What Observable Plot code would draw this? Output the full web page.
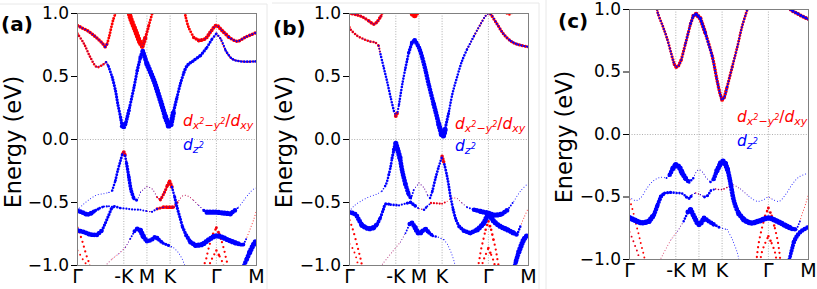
<!DOCTYPE html>
<html><head><meta charset="utf-8">
<script src="https://cdn.jsdelivr.net/npm/d3@7"></script>
<script src="https://cdn.jsdelivr.net/npm/@observablehq/plot@0.6"></script>
<style>
html,body{margin:0;padding:0;background:#fff;}
#root{position:relative;width:817px;height:289px;overflow:hidden;background:#fff;}
</style></head><body><div id="root"></div>
<script>
// k-path ticks (units of |Γ-K|) and labels
const kTicks = [0, 1, 1.5, 2, 3, 3.866];
const kLabels = ["Γ", "-K", "M", "K", "Γ", "M"];
const eTicks = [-1, -0.5, 0, 0.5, 1];
// each point: [k, energy (eV), d_{x2-y2}/d_{xy} weight, d_{z2} weight]

// ---------- panel (a) ----------
const a_c1 = [[0,0.905,.55,.25],[0.1,0.885,.55,.25],[0.21,0.865,.55,.25],[0.32,0.835,.55,.25],[0.42,0.805,.55,.25],[0.52,0.77,.55,.25],[0.60,0.735,.5,.3],[0.64,0.76,.45,0],[0.68,0.81,.45,0],[0.73,0.89,.45,0],[0.78,0.96,.45,0],[0.82,1.0,.45,0],[0.84,1.03,.45,0]];
const a_c2 = [[0,0.84,.4,.1],[0.14,0.76,.4,.1],[0.28,0.65,.4,.1],[0.42,0.574,.4,.15],[0.53,0.59,.4,.15],[0.62,0.614,.3,.35],[0.67,0.58,0,.45],[0.75,0.495,0,.5],[0.82,0.389,0,.5],[0.87,0.283,0,.5],[0.93,0.177,0,.55],[0.965,0.105,.1,.7],[1.0,0.10,.1,.75],[1.05,0.14,0,.6],[1.11,0.23,0,.5],[1.22,0.415,0,.5],[1.29,0.548,0,.55],[1.36,0.653,0,.65],[1.41,0.70,0,.75],[1.50,0.60,0,.8],[1.65,0.468,0,.8],[1.79,0.31,0,.8],[1.90,0.177,0,.85],[1.97,0.11,0,.9],[2.02,0.12,0,.8],[2.08,0.23,0,.55],[2.15,0.336,0,.5],[2.22,0.44,0,.5],[2.30,0.534,0,.55],[2.37,0.587,0,.55],[2.51,0.627,0,.55],[2.66,0.667,.15,.5],[2.80,0.733,.2,.45],[2.91,0.80,.3,.4],[3.0,0.84,.35,.35],[3.09,0.80,.3,.35],[3.20,0.706,.3,.4],[3.34,0.64,.3,.4],[3.52,0.62,.3,.4],[3.866,0.62,.3,.4]];
const a_c3 = [[1.11,1.04,.8,0],[1.13,0.984,.8,0],[1.25,0.865,.8,0],[1.36,0.759,.75,.05],[1.40,0.738,.7,.1],[1.47,0.812,.5,.05],[1.54,0.905,.45,0],[1.61,0.997,.45,0],[1.63,1.03,.45,0]];
const a_c4 = [[2.31,1.03,.45,0],[2.33,0.984,.45,0],[2.40,0.89,.45,0],[2.51,0.81,.55,.05],[2.62,0.786,.6,.1],[2.76,0.80,.6,.15],[2.87,0.852,.6,.2],[3.0,0.905,.6,.2],[3.12,0.865,.6,.25],[3.27,0.812,.55,.3],[3.45,0.78,.55,.3],[3.63,0.812,.55,.3],[3.866,0.85,.55,.3]];
const a_v0 = [[0,-0.565,0,.75],[0.1,-0.578,0,.75],[0.21,-0.595,0,.75],[0.3,-0.585,0,.65],[0.39,-0.563,0,.5],[0.48,-0.545,0,.4],[0.57,-0.532,0,.35],[0.68,-0.53,0,.3],[0.75,-0.535,0,.3]];
const a_v1 = [[0,-0.56,0,.15],[0.14,-0.51,0,.15],[0.28,-0.47,0,.15],[0.42,-0.44,0,.15],[0.57,-0.43,0,.15],[0.68,-0.42,0,.2],[0.75,-0.405,0,.4],[0.82,-0.325,0,.45],[0.87,-0.246,0,.45],[0.93,-0.167,.2,.45],[0.97,-0.115,.5,.3],[1.0,-0.10,.6,.2],[1.03,-0.13,.3,.4],[1.06,-0.19,0,.55],[1.11,-0.30,0,.6],[1.16,-0.405,0,.6],[1.22,-0.47,0,.5],[1.29,-0.484,.05,.15],[1.36,-0.418,.1,.12],[1.50,-0.373,.12,.1],[1.61,-0.392,.12,.1],[1.72,-0.458,.3,.1],[1.79,-0.479,.5,.15],[1.88,-0.418,.5,.1],[1.94,-0.365,.55,.1],[1.99,-0.333,.6,.1],[2.04,-0.378,.2,.4],[2.10,-0.458,0,.5],[2.15,-0.537,0,.5],[2.21,-0.616,0,.5],[2.27,-0.696,0,.55],[2.35,-0.762,0,.65],[2.44,-0.815,0,.75],[2.55,-0.84,0,.8],[2.69,-0.833,0,.8],[2.83,-0.796,0,.8],[2.99,-0.765,0,.8],[3.12,-0.775,0,.8],[3.27,-0.80,0,.8],[3.41,-0.82,0,.75],[3.52,-0.833,0,.6],[3.59,-0.833,.1,.3],[3.66,-0.775,.15,0],[3.73,-0.709,.15,0],[3.81,-0.63,.15,0],[3.866,-0.563,.15,0]];
const a_v2 = [[0,-0.722,0,.75],[0.14,-0.735,0,.75],[0.28,-0.754,0,.75],[0.42,-0.757,0,.7],[0.53,-0.722,0,.5],[0.60,-0.664,0,.5],[0.68,-0.595,0,.5],[0.73,-0.55,0,.45],[0.80,-0.53,0,.4],[0.93,-0.545,0,.35],[1.07,-0.55,0,.35],[1.22,-0.556,0,.35],[1.36,-0.558,.1,.3],[1.50,-0.569,.2,.2],[1.61,-0.574,.15,.35],[1.72,-0.55,.5,.2],[1.86,-0.537,.6,.15],[1.99,-0.537,.6,.15],[2.08,-0.537,.4,.1],[2.19,-0.484,.15,.05],[2.29,-0.444,.15,.05],[2.40,-0.452,.15,.05],[2.51,-0.484,.12,.08],[2.62,-0.524,.1,.15],[2.73,-0.563,0,.5],[2.80,-0.577,0,.8],[2.99,-0.577,0,.8],[3.19,-0.585,0,.8],[3.30,-0.59,0,.7],[3.41,-0.56,0,.3],[3.48,-0.537,0,.15],[3.59,-0.484,0,.15],[3.70,-0.431,0,.15],[3.81,-0.392,0,.15],[3.866,-0.386,0,.15]];
const a_v3 = [[0.64,-0.987,.1,.05],[0.75,-0.947,.12,.05],[0.89,-0.907,.12,.08],[1.04,-0.854,.1,.12],[1.14,-0.788,.05,.3],[1.23,-0.728,0,.6],[1.29,-0.709,0,.75],[1.36,-0.722,0,.8],[1.43,-0.775,0,.75],[1.50,-0.807,0,.7],[1.60,-0.796,0,.7],[1.68,-0.775,0,.7],[1.76,-0.796,0,.6],[1.85,-0.823,0,.5],[1.97,-0.841,0,.25],[2.08,-0.86,0,.15],[2.17,-0.894,0,.15],[2.24,-0.934,0,.15],[2.31,-0.992,0,.15],[2.32,-1.02,0,.15]];
const a_v4 = [[3.59,-1.02,0,.7],[3.60,-1.0,0,.7],[3.66,-0.947,0,.75],[3.72,-0.894,0,.8],[3.79,-0.841,0,.8],[3.866,-0.80,0,.8]];
const a_r1 = [[0,-0.70,.35,0],[0.05,-0.749,.35,0],[0.11,-0.815,.35,0],[0.16,-0.88,.35,0],[0.21,-0.939,.35,0],[0.26,-0.992,.35,0],[0.27,-1.02,.35,0]];
const a_r2 = [[0,-0.881,.3,0],[0.065,-0.92,.3,0],[0.14,-0.966,.3,0],[0.19,-0.992,.3,0],[0.2,-1.02,.3,0]];
const a_r3 = [[2.73,-1.02,.35,0],[2.74,-0.992,.35,0],[2.78,-0.947,.35,0],[2.82,-0.881,.35,0],[2.87,-0.815,.35,0],[2.93,-0.749,.4,0],[3.0,-0.70,.45,.05],[3.06,-0.749,.4,0],[3.12,-0.815,.35,0],[3.17,-0.881,.35,0],[3.21,-0.947,.35,0],[3.24,-0.992,.35,0],[3.25,-1.02,.35,0]];
const a_r4 = [[2.83,-1.02,.35,0],[2.87,-0.974,.35,0],[2.93,-0.928,.35,0],[3.0,-0.881,.4,0],[3.07,-0.928,.35,0],[3.13,-0.974,.35,0],[3.17,-1.02,.35,0]];

// ---------- panel (b) ----------
const b_c1 = [[0,1.0,.5,.15],[0.14,0.99,.5,.15],[0.28,0.973,.5,.15],[0.42,0.94,.55,.2],[0.53,0.915,.55,.2],[0.60,0.936,.55,.2],[0.68,0.98,.5,.15],[0.72,1.02,.5,.15]];
const b_c2 = [[0,0.89,.4,.1],[0.02,0.875,.4,.1],[0.17,0.822,.4,.1],[0.31,0.796,.4,.12],[0.45,0.777,.4,.15],[0.56,0.769,.4,.15],[0.63,0.743,.35,.25],[0.67,0.676,.1,.4],[0.74,0.57,0,.4],[0.81,0.464,0,.4],[0.89,0.332,0,.4],[0.96,0.225,.3,.3],[1.0,0.186,.6,.2],[1.04,0.22,.2,.35],[1.07,0.279,0,.4],[1.14,0.438,0,.4],[1.21,0.57,0,.45],[1.28,0.69,0,.55],[1.35,0.769,0,.65],[1.41,0.788,0,.7],[1.50,0.729,0,.7],[1.61,0.597,0,.7],[1.71,0.438,0,.7],[1.82,0.279,0,.75],[1.93,0.119,0,.8],[1.99,0.04,0,.85],[2.02,0.027,0,.85],[2.07,0.093,0,.5],[2.15,0.225,0,.4],[2.22,0.358,0,.4],[2.33,0.504,0,.4],[2.43,0.623,.1,.4],[2.54,0.716,.3,.35],[2.69,0.822,.35,.3],[2.83,0.915,.35,.3],[2.94,0.981,.35,.3],[3.0,1.0,.35,.3],[3.05,0.995,.5,.3],[3.19,0.915,.5,.3],[3.33,0.836,.5,.3],[3.48,0.782,.5,.35],[3.62,0.756,.5,.35],[3.866,0.735,.5,.35]];
const b_c3 = [[1.34,1.02,.9,0],[1.37,0.995,.9,0],[1.40,0.985,.9,0],[1.43,0.995,.9,0],[1.46,1.02,.9,0]];
const b_c4 = [[3.36,1.02,.4,0],[3.42,0.995,.4,0],[3.48,0.995,.4,0],[3.54,1.02,.4,0]];
const b_v1 = [[0,-0.57,0,.15],[0.09,-0.53,0,.15],[0.24,-0.491,0,.15],[0.42,-0.456,0,.15],[0.60,-0.432,0,.15],[0.70,-0.41,0,.25],[0.77,-0.37,0,.4],[0.80,-0.345,0,.4],[0.85,-0.279,0,.45],[0.89,-0.212,0,.45],[0.92,-0.146,0,.5],[0.96,-0.08,0,.65],[1.0,-0.03,0,.8],[1.04,-0.08,0,.8],[1.09,-0.146,0,.75],[1.14,-0.252,0,.75],[1.21,-0.358,0,.7],[1.28,-0.438,0,.6],[1.33,-0.469,0,.3],[1.39,-0.398,.08,.15],[1.50,-0.345,.1,.12],[1.61,-0.385,.1,.12],[1.69,-0.446,.05,.2],[1.74,-0.464,0,.4],[1.79,-0.411,0,.45],[1.86,-0.305,0,.45],[1.93,-0.212,.2,.4],[2.0,-0.133,.55,.15],[2.05,-0.199,.1,.45],[2.10,-0.279,0,.45],[2.14,-0.358,0,.45],[2.18,-0.451,0,.45],[2.24,-0.557,0,.5],[2.30,-0.637,0,.5],[2.37,-0.69,0,.6],[2.47,-0.724,0,.7],[2.61,-0.743,0,.75],[2.76,-0.716,0,.8],[2.90,-0.663,0,.8],[3.0,-0.60,0,.8],[3.12,-0.65,0,.8],[3.26,-0.69,0,.8],[3.41,-0.716,0,.8],[3.55,-0.743,0,.7],[3.62,-0.756,.1,.4],[3.69,-0.69,.15,0],[3.77,-0.62,.15,0],[3.866,-0.54,.15,0]];
const b_v2 = [[0,-0.578,0,.75],[0.13,-0.595,0,.75],[0.20,-0.637,0,.75],[0.27,-0.681,0,.8],[0.42,-0.708,0,.8],[0.53,-0.698,0,.75],[0.60,-0.671,0,.6],[0.67,-0.618,0,.5],[0.73,-0.557,0,.5],[0.78,-0.512,0,.5],[0.89,-0.517,0,.4],[1.07,-0.523,0,.35],[1.25,-0.504,0,.5],[1.32,-0.499,0,.55],[1.43,-0.53,.05,.3],[1.50,-0.549,.2,.1],[1.61,-0.557,0,.4],[1.68,-0.53,.2,.3],[1.76,-0.504,.35,.05],[1.89,-0.507,.35,.05],[2.0,-0.509,.3,.05],[2.11,-0.491,.15,0],[2.22,-0.464,.15,0],[2.33,-0.469,.12,.05],[2.43,-0.504,.08,.12],[2.54,-0.538,0,.3],[2.69,-0.557,0,.7],[2.83,-0.57,0,.8],[3.0,-0.585,0,.8],[3.15,-0.60,0,.8],[3.30,-0.59,0,.75],[3.41,-0.56,0,.3],[3.55,-0.491,0,.15],[3.69,-0.411,0,.15],[3.866,-0.345,0,.15]];
const b_v3 = [[0.71,-0.99,.1,.05],[0.92,-0.894,.1,.05],[1.10,-0.814,.08,.1],[1.21,-0.743,0,.3],[1.30,-0.671,0,.7],[1.35,-0.663,0,.75],[1.42,-0.70,0,.8],[1.50,-0.745,0,.8],[1.58,-0.725,0,.75],[1.65,-0.71,0,.7],[1.72,-0.74,0,.6],[1.80,-0.765,0,.4],[1.92,-0.775,0,.2],[2.04,-0.795,0,.15],[2.12,-0.836,0,.15],[2.20,-0.902,0,.15],[2.27,-0.981,0,.15],[2.29,-1.02,0,.15]];
const b_v4 = [[3.56,-1.02,0,.7],[3.60,-0.96,0,.75],[3.66,-0.889,0,.8],[3.72,-0.83,0,.8],[3.77,-0.79,0,.8],[3.866,-0.75,0,.8]];
const b_r1 = [[0,-0.64,.35,0],[0.06,-0.70,.35,0],[0.13,-0.79,.35,0],[0.20,-0.89,.35,0],[0.25,-0.965,.35,0],[0.28,-1.02,.35,0]];
const b_r2 = [[0,-0.83,.3,0],[0.06,-0.86,.3,0],[0.13,-0.92,.3,0],[0.18,-0.99,.3,0],[0.19,-1.02,.3,0]];
const b_r3 = [[2.77,-1.02,.35,0],[2.81,-0.942,.35,0],[2.84,-0.875,.35,0],[2.89,-0.796,.35,0],[2.94,-0.716,.4,0],[3.0,-0.65,.45,0],[3.06,-0.716,.4,0],[3.11,-0.796,.35,0],[3.16,-0.875,.35,0],[3.19,-0.942,.35,0],[3.23,-1.02,.35,0]];
const b_r4 = [[2.85,-1.02,.35,0],[2.88,-0.973,.35,0],[2.94,-0.915,.35,0],[3.0,-0.862,.4,0],[3.06,-0.915,.35,0],[3.12,-0.973,.35,0],[3.15,-1.02,.35,0]];

// ---------- panel (c) ----------
const c_c1 = [[0.59,1.02,.45,.3],[0.61,0.973,.45,.3],[0.71,0.875,.45,.3],[0.81,0.769,.45,.3],[0.92,0.622,.5,.3],[0.97,0.56,.55,.3],[1.01,0.54,.6,.3],[1.06,0.55,.55,.3],[1.12,0.60,.5,.3],[1.21,0.729,.5,.35],[1.32,0.888,.55,.4],[1.38,0.95,.65,.45],[1.44,0.963,.7,.5],[1.53,0.928,.65,.45],[1.64,0.809,.55,.4],[1.79,0.622,.55,.35],[1.89,0.436,.55,.35],[1.96,0.32,.55,.35],[2.0,0.277,.6,.35],[2.05,0.30,.55,.35],[2.11,0.383,.5,.3],[2.22,0.543,.45,.3],[2.33,0.702,.45,.3],[2.43,0.862,.45,.3],[2.54,0.995,.45,.3],[2.56,1.02,.45,.3]];
const c_c2 = [[3.45,1.02,.6,.45],[3.48,1.0,.6,.45],[3.62,0.968,.6,.45],[3.76,0.941,.6,.45],[3.866,0.923,.6,.45]];
const c_v1 = [[0,-0.50,0,.15],[0.13,-0.529,0,.15],[0.24,-0.508,0,.15],[0.38,-0.428,0,.15],[0.53,-0.367,0,.15],[0.67,-0.343,0,.15],[0.80,-0.348,0,.3],[0.87,-0.322,0,.7],[0.94,-0.269,0,.8],[1.0,-0.242,0,.85],[1.07,-0.26,0,.85],[1.14,-0.309,0,.8],[1.22,-0.356,0,.7],[1.29,-0.383,0,.4],[1.38,-0.348,.05,.15],[1.45,-0.295,.05,.15],[1.50,-0.282,.05,.15],[1.58,-0.303,.05,.15],[1.66,-0.348,.05,.15],[1.75,-0.38,0,.4],[1.82,-0.356,0,.7],[1.89,-0.287,0,.8],[1.97,-0.229,0,.85],[2.02,-0.215,0,.85],[2.07,-0.234,0,.8],[2.12,-0.282,0,.75],[2.16,-0.348,0,.75],[2.20,-0.428,0,.75],[2.24,-0.508,0,.75],[2.29,-0.574,0,.75],[2.36,-0.633,0,.8],[2.47,-0.681,0,.85],[2.61,-0.707,0,.85],[2.79,-0.694,0,.85],[3.0,-0.668,0,.85],[3.19,-0.694,0,.85],[3.37,-0.729,0,.85],[3.51,-0.755,0,.7],[3.61,-0.76,.1,.3],[3.68,-0.694,.15,0],[3.75,-0.614,.15,0],[3.82,-0.535,.15,0],[3.866,-0.48,.15,0]];
const c_v2 = [[0,-0.667,0,.85],[0.13,-0.689,0,.85],[0.27,-0.707,0,.85],[0.42,-0.694,0,.8],[0.53,-0.641,0,.7],[0.61,-0.561,0,.65],[0.68,-0.495,0,.6],[0.76,-0.468,0,.5],[0.89,-0.463,0,.4],[1.03,-0.468,0,.4],[1.14,-0.473,0,.4],[1.23,-0.50,0,.5],[1.29,-0.51,0,.5],[1.35,-0.481,.1,.2],[1.43,-0.468,.2,.1],[1.53,-0.481,.15,.2],[1.62,-0.50,0,.45],[1.69,-0.489,0,.4],[1.76,-0.447,.1,.35],[1.86,-0.436,.25,.1],[2.0,-0.44,.25,.1],[2.15,-0.415,.12,.05],[2.25,-0.402,.1,.08],[2.40,-0.436,.05,.12],[2.58,-0.495,0,.15],[2.76,-0.535,0,.15],[2.90,-0.521,0,.15],[3.0,-0.50,.05,.15],[3.10,-0.521,0,.15],[3.23,-0.535,0,.15],[3.37,-0.481,0,.15],[3.51,-0.401,0,.15],[3.66,-0.34,0,.15],[3.866,-0.309,0,.15]];
const c_v3 = [[0.68,-0.99,.1,.03],[0.90,-0.84,.1,.05],[1.04,-0.774,.08,.1],[1.17,-0.694,.05,.4],[1.26,-0.62,0,.75],[1.32,-0.60,0,.8],[1.40,-0.66,0,.8],[1.50,-0.72,0,.8],[1.61,-0.668,0,.75],[1.71,-0.694,0,.7],[1.82,-0.72,0,.45],[1.95,-0.745,0,.2],[2.11,-0.76,0,.15],[2.22,-0.84,0,.15],[2.33,-0.947,0,.15],[2.37,-1.02,0,.15]];
const c_v4 = [[3.44,-1.02,0,.6],[3.50,-0.93,0,.65],[3.55,-0.86,0,.7],[3.62,-0.81,0,.7],[3.72,-0.77,0,.7],[3.866,-0.74,0,.7]];
const c_r1 = [[0,-0.52,.3,0],[0.05,-0.58,.3,0],[0.10,-0.65,.3,0],[0.15,-0.73,.3,0],[0.20,-0.80,.3,0],[0.25,-0.88,.3,0],[0.30,-0.95,.3,0],[0.34,-1.02,.3,0]];
const c_r2 = [[0,-0.78,.3,.05],[0.06,-0.83,.3,.05],[0.12,-0.89,.3,.05],[0.18,-0.95,.3,.05],[0.23,-1.02,.3,.05]];
const c_r3 = [[2.74,-1.02,.35,0],[2.76,-0.95,.35,0],[2.80,-0.85,.35,0],[2.86,-0.75,.35,0],[2.93,-0.65,.4,0],[3.0,-0.588,.45,.05],[3.07,-0.65,.4,0],[3.14,-0.75,.35,0],[3.20,-0.85,.35,0],[3.24,-0.95,.35,0],[3.26,-1.02,.35,0]];
const c_r4 = [[2.82,-1.02,.35,0],[2.86,-0.94,.35,0],[2.93,-0.87,.35,0],[3.0,-0.814,.4,0],[3.07,-0.87,.35,0],[3.14,-0.94,.35,0],[3.18,-1.02,.35,0]];

// dense bands and the steep, sparsely sampled deep bands (drawn with wider dot spacing)
const panelBands = {
  a: [a_c1, a_c2, a_c3, a_c4, a_v0, a_v1, a_v2, a_v3, a_v4],
  b: [b_c1, b_c2, b_c3, b_c4, b_v1, b_v2, b_v3, b_v4],
  c: [c_c1, c_c2, c_v1, c_v2, c_v3, c_v4]
};
const panelSteep = {
  a: [a_r1, a_r2, a_r3, a_r4],
  b: [b_r1, b_r2, b_r3, b_r4],
  c: [c_r1, c_r2, c_r3, c_r4]
};

const layout = [
  {id: "a", left: 0, width: 272, ml: 77, mr: 16, mt: 13, mb: 24, xpad: 4},
  {id: "b", left: 272, width: 272, ml: 77, mr: 16, mt: 13, mb: 24, xpad: 4},
  {id: "c", left: 544, width: 273, ml: 85, mr: 9, mt: 9, mb: 30, xpad: 4}
];

const W = 6.5; // px per unit orbital weight
const root = document.getElementById("root");
const toRows = bands => bands.flatMap((b, i) => b.map(q => ({k: q[0], e: q[1], wr: q[2], wb: q[3], z: i})));

for (const p of layout) {
  const data = toRows(panelBands[p.id]);
  const steep = toRows(panelSteep[p.id]);
  const grid = {stroke: "#9a9a9a", strokeWidth: 0.8, strokeDasharray: "1,1.6"};
  const lineOpts = {x: "k", y: "e", z: "z", strokeLinecap: "round", strokeLinejoin: "round", strokeDasharray: "0 2.9", curve: "catmull-rom", clip: true};
  const sparseOpts = {...lineOpts, strokeDasharray: "0 5"};
  const svg = Plot.plot({
    width: p.width, height: 289,
    marginLeft: p.ml, marginRight: p.mr, marginTop: p.mt, marginBottom: p.mb,
    x: {domain: [0, kTicks[kTicks.length - 1]]},
    y: {domain: [-1, 1]},
    style: {fontFamily: '"DejaVu Sans", sans-serif', background: "transparent", color: "black", overflow: "visible"},
    marks: [
      Plot.ruleX(kTicks.slice(1, -1), grid),
      Plot.ruleY([0], grid),
      Plot.line(steep, {...sparseOpts, stroke: "#ff0000", strokeWidth: d => d.wr * W}),
      Plot.line(steep, {...sparseOpts, stroke: "#0000ff", strokeWidth: d => d.wb * W}),
      Plot.line(data, {...lineOpts, stroke: "#ff0000", strokeWidth: d => d.wr * W}),
      Plot.line(data, {...lineOpts, stroke: "#0000ff", strokeWidth: d => d.wb * W}),
      Plot.frame({stroke: "#808080"}),
      Plot.axisY(eTicks, {tickFormat: d3.format(".1f"), fontSize: 17, tickSize: 6, tickPadding: 2.5, label: null}),
      Plot.axisX(kTicks, {tickFormat: d => kLabels[kTicks.indexOf(d)], fontSize: 19, tickSize: 0, tickPadding: p.xpad, label: null})
    ]
  });
  svg.style.position = "absolute";
  svg.style.left = p.left + "px";
  svg.style.top = "0px";
  root.appendChild(svg);
}

// text overlay: panel letters, axis titles, legends
const ov = d3.select(root).append("svg")
  .attr("width", 817).attr("height", 289)
  .style("position", "absolute").style("left", "0px").style("top", "0px")
  .style("font-family", '"DejaVu Sans", sans-serif');

// faint screenshot borders
const borders = [[0, 4, 267, 4], [267, 4, 267, 289], [272, 3, 539, 3], [539, 3, 539, 289], [546, 0, 546, 289]];
ov.selectAll("line.b").data(borders).join("line")
  .attr("x1", d => d[0]).attr("y1", d => d[1]).attr("x2", d => d[2]).attr("y2", d => d[3])
  .attr("stroke", "#e8e8e8").attr("stroke-width", 1);

const letters = [{t: "(a)", x: 1, y: 31}, {t: "(b)", x: 273, y: 35}, {t: "(c)", x: 558, y: 28}];
ov.selectAll("text.l").data(letters).join("text")
  .attr("x", d => d.x).attr("y", d => d.y)
  .attr("font-size", 20).attr("font-weight", "bold").text(d => d.t);

const ylab = [{x: 21, y: 142}, {x: 292, y: 142}, {x: 572, y: 137}];
ov.selectAll("text.y").data(ylab).join("text")
  .attr("transform", d => `translate(${d.x},${d.y}) rotate(-90)`)
  .attr("text-anchor", "middle").attr("font-size", 22.5).text("Energy (eV)");

const legRed = [{x: 183, y: 126}, {x: 455, y: 129}, {x: 737, y: 122}];
const legBlue = [{x: 183, y: 150}, {x: 455, y: 151}, {x: 737, y: 146}];
for (const p of legRed) {
  const t = ov.append("text").attr("x", p.x).attr("y", p.y).attr("fill", "#ff0000")
    .attr("font-style", "italic").attr("font-size", 15.5);
  t.append("tspan").text("d");
  t.append("tspan").attr("font-size", 11).attr("dy", 3).text("x");
  t.append("tspan").attr("font-size", 8).attr("dy", -5).text("2");
  t.append("tspan").attr("font-size", 11).attr("dy", 5).attr("font-style", "normal").text("−");
  t.append("tspan").attr("font-size", 11).text("y");
  t.append("tspan").attr("font-size", 8).attr("dy", -5).text("2");
  t.append("tspan").attr("dy", 2).attr("font-style", "normal").text("/");
  t.append("tspan").text("d");
  t.append("tspan").attr("font-size", 11).attr("dy", 3).text("xy");
}
for (const p of legBlue) {
  const t = ov.append("text").attr("x", p.x).attr("y", p.y).attr("fill", "#0000ff")
    .attr("font-style", "italic").attr("font-size", 15.5);
  t.append("tspan").text("d");
  t.append("tspan").attr("font-size", 11).attr("dy", 3).text("z");
  t.append("tspan").attr("font-size", 8).attr("dy", -5).text("2");
}
</script>
</body></html>
